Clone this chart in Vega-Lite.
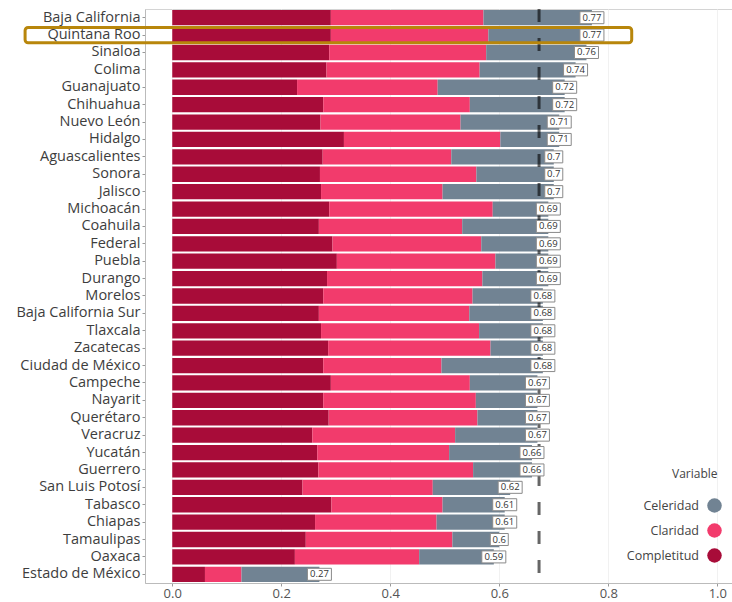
{
  "$schema": "https://vega.github.io/schema/vega-lite/v6.json",
  "width": 587,
  "height": 574,
  "autosize": {"type": "none"},
  "padding": {"left": 145, "top": 9, "right": 0, "bottom": 19},
  "background": "white",
  "config": {
    "font": "Open Sans",
    "view": {"stroke": "#d4d4d4", "strokeWidth": 1}
  },
  "data": {
    "values": [
      {"estado": "Baja California", "Completitud": 0.291, "Claridad": 0.280, "Celeridad": 0.199, "total": 0.77},
      {"estado": "Quintana Roo", "Completitud": 0.291, "Claridad": 0.289, "Celeridad": 0.190, "total": 0.77},
      {"estado": "Sinaloa", "Completitud": 0.288, "Claridad": 0.288, "Celeridad": 0.184, "total": 0.76},
      {"estado": "Colima", "Completitud": 0.283, "Claridad": 0.281, "Celeridad": 0.176, "total": 0.74},
      {"estado": "Guanajuato", "Completitud": 0.229, "Claridad": 0.258, "Celeridad": 0.233, "total": 0.72},
      {"estado": "Chihuahua", "Completitud": 0.277, "Claridad": 0.269, "Celeridad": 0.174, "total": 0.72},
      {"estado": "Nuevo León", "Completitud": 0.272, "Claridad": 0.257, "Celeridad": 0.181, "total": 0.71},
      {"estado": "Hidalgo", "Completitud": 0.315, "Claridad": 0.287, "Celeridad": 0.108, "total": 0.71},
      {"estado": "Aguascalientes", "Completitud": 0.276, "Claridad": 0.236, "Celeridad": 0.188, "total": 0.70},
      {"estado": "Sonora", "Completitud": 0.271, "Claridad": 0.287, "Celeridad": 0.142, "total": 0.70},
      {"estado": "Jalisco", "Completitud": 0.273, "Claridad": 0.223, "Celeridad": 0.204, "total": 0.70},
      {"estado": "Michoacán", "Completitud": 0.288, "Claridad": 0.300, "Celeridad": 0.102, "total": 0.69},
      {"estado": "Coahuila", "Completitud": 0.269, "Claridad": 0.263, "Celeridad": 0.158, "total": 0.69},
      {"estado": "Federal", "Completitud": 0.294, "Claridad": 0.273, "Celeridad": 0.123, "total": 0.69},
      {"estado": "Puebla", "Completitud": 0.302, "Claridad": 0.291, "Celeridad": 0.097, "total": 0.69},
      {"estado": "Durango", "Completitud": 0.284, "Claridad": 0.285, "Celeridad": 0.121, "total": 0.69},
      {"estado": "Morelos", "Completitud": 0.277, "Claridad": 0.274, "Celeridad": 0.129, "total": 0.68},
      {"estado": "Baja California Sur", "Completitud": 0.269, "Claridad": 0.276, "Celeridad": 0.135, "total": 0.68},
      {"estado": "Tlaxcala", "Completitud": 0.273, "Claridad": 0.290, "Celeridad": 0.117, "total": 0.68},
      {"estado": "Zacatecas", "Completitud": 0.286, "Claridad": 0.298, "Celeridad": 0.096, "total": 0.68},
      {"estado": "Ciudad de México", "Completitud": 0.277, "Claridad": 0.217, "Celeridad": 0.186, "total": 0.68},
      {"estado": "Campeche", "Completitud": 0.291, "Claridad": 0.255, "Celeridad": 0.124, "total": 0.67},
      {"estado": "Nayarit", "Completitud": 0.277, "Claridad": 0.280, "Celeridad": 0.113, "total": 0.67},
      {"estado": "Querétaro", "Completitud": 0.287, "Claridad": 0.273, "Celeridad": 0.110, "total": 0.67},
      {"estado": "Veracruz", "Completitud": 0.257, "Claridad": 0.262, "Celeridad": 0.151, "total": 0.67},
      {"estado": "Yucatán", "Completitud": 0.266, "Claridad": 0.242, "Celeridad": 0.152, "total": 0.66},
      {"estado": "Guerrero", "Completitud": 0.268, "Claridad": 0.284, "Celeridad": 0.108, "total": 0.66},
      {"estado": "San Luis Potosí", "Completitud": 0.239, "Claridad": 0.239, "Celeridad": 0.142, "total": 0.62},
      {"estado": "Tabasco", "Completitud": 0.292, "Claridad": 0.204, "Celeridad": 0.114, "total": 0.61},
      {"estado": "Chiapas", "Completitud": 0.262, "Claridad": 0.223, "Celeridad": 0.125, "total": 0.61},
      {"estado": "Tamaulipas", "Completitud": 0.245, "Claridad": 0.269, "Celeridad": 0.086, "total": 0.60},
      {"estado": "Oaxaca", "Completitud": 0.225, "Claridad": 0.228, "Celeridad": 0.137, "total": 0.59},
      {"estado": "Estado de México", "Completitud": 0.060, "Claridad": 0.067, "Celeridad": 0.143, "total": 0.27}
    ]
  },
  "encoding": {
    "y": {
      "field": "estado",
      "type": "nominal",
      "sort": ["Baja California", "Quintana Roo", "Sinaloa", "Colima", "Guanajuato", "Chihuahua", "Nuevo León", "Hidalgo", "Aguascalientes", "Sonora", "Jalisco", "Michoacán", "Coahuila", "Federal", "Puebla", "Durango", "Morelos", "Baja California Sur", "Tlaxcala", "Zacatecas", "Ciudad de México", "Campeche", "Nayarit", "Querétaro", "Veracruz", "Yucatán", "Guerrero", "San Luis Potosí", "Tabasco", "Chiapas", "Tamaulipas", "Oaxaca", "Estado de México"],
      "scale": {"paddingInner": 0.12, "paddingOuter": 0.06},
      "axis": {
        "title": null,
        "labelFontSize": 14.5,
        "labelColor": "#3d3d3d",
        "labelPadding": 2,
        "tickSize": 3,
        "tickColor": "#999999",
        "domainColor": "#bbbbbb"
      }
    }
  },
  "layer": [
    {
      "transform": [{"fold": ["Completitud", "Claridad", "Celeridad"], "as": ["variable", "valor"]}],
      "mark": {"type": "bar"},
      "encoding": {
        "x": {
          "field": "valor",
          "type": "quantitative",
          "stack": "zero",
          "scale": {"domain": [-0.05, 1.027], "nice": false, "zero": false},
          "axis": {
            "title": null,
            "values": [0, 0.2, 0.4, 0.6, 0.8, 1.0],
            "format": ".1f",
            "labelFontSize": 13,
            "labelColor": "#555555",
            "labelPadding": 1,
            "tickSize": 3,
            "tickColor": "#999999",
            "domainColor": "#bbbbbb",
            "grid": true,
            "gridColor": "#f1f1f1"
          }
        },
        "color": {
          "field": "variable",
          "type": "nominal",
          "scale": {"domain": ["Celeridad", "Claridad", "Completitud"], "range": ["#718393", "#f23b6c", "#a80c39"]},
          "legend": {
            "title": "Variable",
            "orient": "none",
            "legendX": 527,
            "legendY": 460,
            "titleFontSize": 12,
            "titleFontWeight": "normal",
            "titleColor": "#444444",
            "titlePadding": 17,
            "labelAlign": "right",
            "labelOffset": -23,
            "symbolOffset": 35,
            "labelFontSize": 12.5,
            "labelColor": "#444444",
            "symbolType": "circle",
            "symbolSize": 210,
            "symbolStrokeWidth": 0,
            "rowPadding": 10
          }
        },
        "order": {"field": "variable", "sort": "descending"}
      }
    },
    {
      "data": {"values": [{"referencia": 0.673}]},
      "mark": {"type": "rule", "color": "#000000", "opacity": 0.6, "strokeWidth": 3, "strokeDash": [13, 16]},
      "encoding": {"x": {"field": "referencia", "type": "quantitative"}, "y": null}
    },
    {
      "mark": {"type": "point", "filled": true, "fill": "white", "stroke": "#8a8a8a", "strokeWidth": 1, "opacity": 1},
      "encoding": {
        "x": {"field": "total", "type": "quantitative"},
        "shape": {
          "condition": {"test": "datum.total == 0.7 || datum.total == 0.6", "value": "M-1,-0.667H1V0.667H-1Z"},
          "value": "M-1,-0.5H1V0.5H-1Z"
        },
        "size": {
          "condition": {"test": "datum.total == 0.7 || datum.total == 0.6", "value": 324},
          "value": 576
        }
      }
    },
    {
      "mark": {"type": "text", "fontSize": 9.5, "color": "#333333"},
      "encoding": {
        "x": {"field": "total", "type": "quantitative"},
        "text": {"field": "total", "type": "quantitative", "format": ".2~f"}
      }
    },
    {
      "transform": [{"filter": "datum.estado == 'Quintana Roo'"}],
      "mark": {"type": "rect", "filled": false, "stroke": "#b8860b", "strokeWidth": 3, "cornerRadius": 3},
      "encoding": {
        "x": {"datum": -0.27},
        "x2": {"datum": 0.843}
      }
    }
  ]
}
